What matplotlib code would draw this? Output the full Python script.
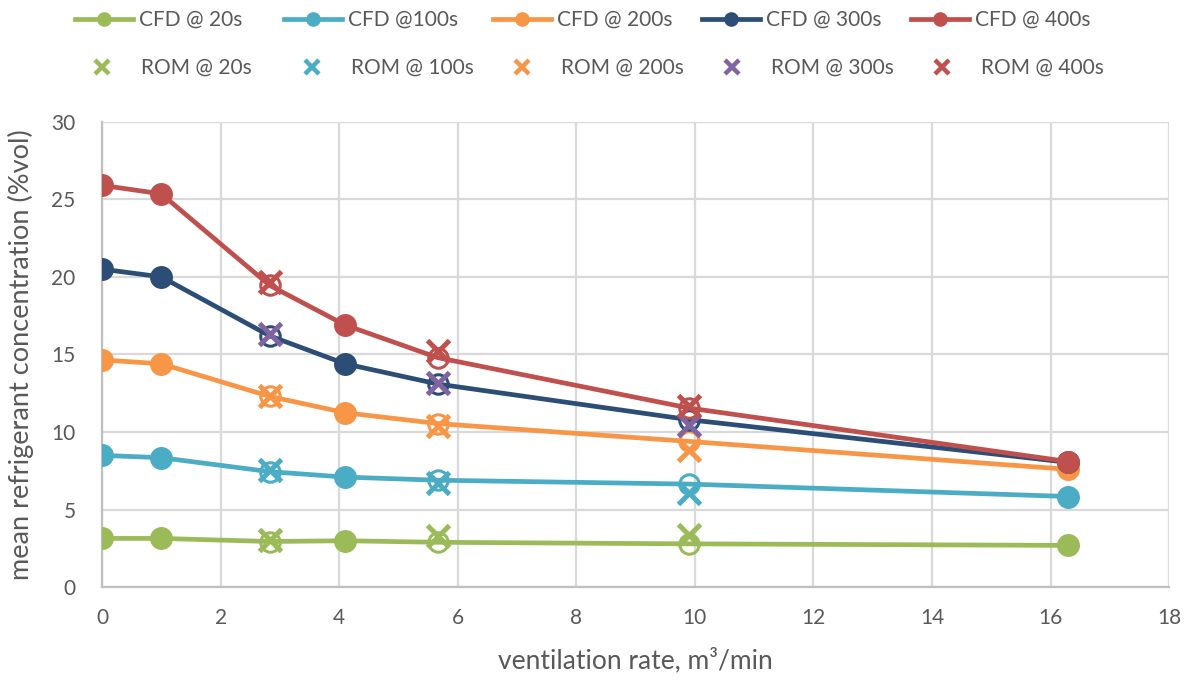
import matplotlib
matplotlib.use("Agg")
import matplotlib.pyplot as plt
from matplotlib.lines import Line2D

plt.rcParams['font.family'] = ['Lato', 'DejaVu Sans']

# ---- data ----
vent_rate = [0, 1, 2.83, 4.1, 5.66, 9.9, 16.3]
cfd_20 = [3.15, 3.15, 2.95, 3.0, 2.9, 2.8, 2.7]
cfd_100 = [8.5, 8.35, 7.45, 7.1, 6.9, 6.65, 5.85]
cfd_200 = [14.65, 14.4, 12.3, 11.25, 10.55, 9.4, 7.6]
cfd_300 = [20.5, 20.0, 16.2, 14.4, 13.1, 10.8, 8.05]
cfd_400 = [25.9, 25.35, 19.45, 16.9, 14.8, 11.55, 8.1]

rom_rate = [2.83, 5.66, 9.9]
rom_20 = [3.05, 3.3, 3.35]
rom_100 = [7.55, 6.7, 6.1]
rom_200 = [12.35, 10.4, 8.85]
rom_300 = [16.3, 13.15, 10.45]
rom_400 = [19.7, 15.2, 11.7]

cfd_labels = ['CFD @ 20s', 'CFD @100s', 'CFD @ 200s', 'CFD @ 300s', 'CFD @ 400s']
rom_labels = ['ROM @ 20s', 'ROM @ 100s', 'ROM @ 200s', 'ROM @ 300s', 'ROM @ 400s']
x_ticks = [0, 2, 4, 6, 8, 10, 12, 14, 16, 18]
y_ticks = [0, 5, 10, 15, 20, 25, 30]

cfd_colors = ['#9BBB59', '#4BACC6', '#F79646', '#2C4D75', '#C0504D']
rom_colors = ['#9BBB59', '#4BACC6', '#F79646', '#8064A2', '#C0504D']
filled_idx = [0, 1, 3, 6]
hollow_idx = [2, 4, 5]

W, H = 1189, 681
fig = plt.figure(figsize=(W / 100, H / 100), dpi=100)
ax = fig.add_axes([0.0858, 0.1376, 0.8975, 0.6837])

cfd_series = [cfd_20, cfd_100, cfd_200, cfd_300, cfd_400]
rom_series = [rom_20, rom_100, rom_200, rom_300, rom_400]

for ys, c in zip(cfd_series, cfd_colors):
    ax.plot(vent_rate, ys, color=c, lw=3.4, solid_capstyle='round', zorder=3)
    ax.plot(vent_rate, ys, ls='none', marker='o', ms=15.5, color=c,
            markevery=filled_idx, zorder=3)
    ax.plot(vent_rate, ys, ls='none', marker='o', ms=14, mfc='none', mec=c,
            mew=2.2, markevery=hollow_idx, zorder=3)

for ys, c in zip(rom_series, rom_colors):
    ax.plot(rom_rate, ys, ls='none', marker='x', ms=15.5, mew=3.6, color=c, zorder=4)

ax.set_xlim(0, 18)
ax.set_ylim(0, 30)
ax.set_xticks(x_ticks)
ax.set_yticks(y_ticks)
ax.grid(True, color='#D9D9D9', lw=1.6, zorder=0)
ax.set_axisbelow(True)
for s in ['top', 'right']:
    ax.spines[s].set_visible(False)
for s in ['left', 'bottom']:
    ax.spines[s].set_color('#BFBFBF')
    ax.spines[s].set_linewidth(1.6)
ax.tick_params(length=0, labelsize=15, colors='#595959')
ax.tick_params(axis='y', pad=19)
ax.tick_params(axis='x', pad=15)
ax.set_xlabel('ventilation rate, m³/min', fontsize=19, color='#595959', labelpad=14)
ax.set_ylabel('mean refrigerant concentration (%vol)', fontsize=19.5, color='#595959')
ax.yaxis.set_label_coords(-0.064, 0.5)

# legend entries, one per series, laid out in two rows
fs = 15
for i, (c, lab) in enumerate(zip(cfd_colors, cfd_labels)):
    h = Line2D([], [], color=c, lw=3.4, marker='o', ms=9.5)
    fig.legend([h], [lab], loc='center left', bbox_to_anchor=((75 + i * 209) / W, 1 - 20 / H),
               frameon=False, fontsize=fs, handlelength=2.8, handletextpad=0.25,
               borderpad=0, borderaxespad=0, labelcolor='#595959')
for i, (c, lab) in enumerate(zip(rom_colors, rom_labels)):
    h = Line2D([], [], ls='none', color=c, marker='x', ms=9.5, mew=3.2)
    fig.legend([h], [lab], loc='center left', bbox_to_anchor=((92 + i * 210) / W, 1 - 68 / H),
               frameon=False, fontsize=fs, handlelength=1.0, handletextpad=1.35,
               borderpad=0, borderaxespad=0, labelcolor='#595959')

fig.savefig('out.png', dpi=100)
